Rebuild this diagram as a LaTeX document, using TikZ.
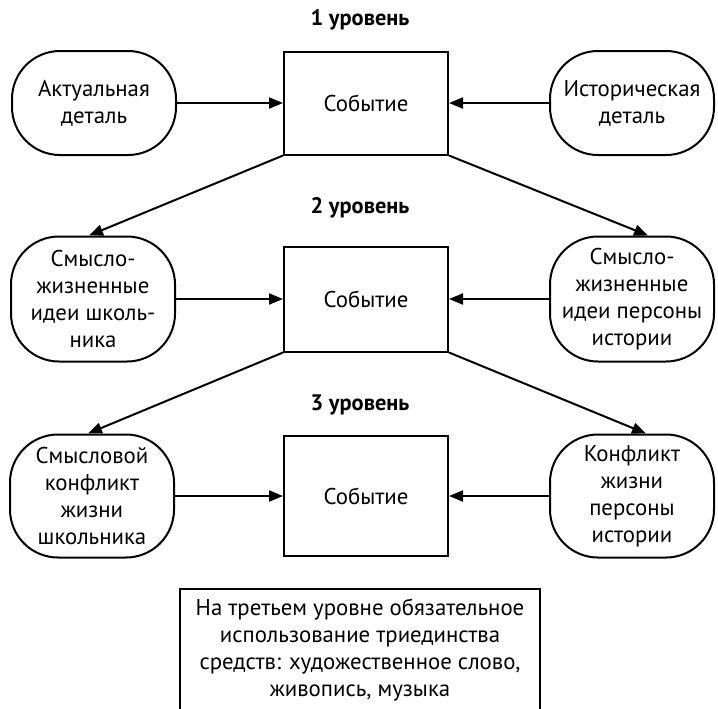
\documentclass[tikz,border=0pt]{standalone}
\usepackage{fontspec}
\setmainfont{PT Sans}
\usetikzlibrary{arrows.meta}
\begin{document}
\begin{tikzpicture}[x=0.5pt,y=-0.5pt,font=\fontsize{11.4}{13.5}\selectfont,
	side/.style={draw,line width=1pt,rounded corners=24pt,align=center,minimum width=82pt,inner sep=2pt},
	event/.style={draw,line width=1pt,minimum width=82pt},
	lvl/.style={font=\fontsize{11.2}{13.5}\selectfont\bfseries},
	arr/.style={-{Triangle[length=7pt,width=5.5pt]},line width=1pt}]
	\clip (0,0) rectangle (718,708);
	% 1 level
	\node[lvl] (t1) at (360,20) {1 уровень};
	\node[side,minimum height=52pt] (lft1) at (94,103) {Актуальная\\деталь};
	\node[event,minimum height=51.5pt] (ev1) at (366,103) {Событие};
	\node[side,minimum height=52pt] (rgt1) at (632,103) {Историческая\\деталь};
	\draw[arr] (lft1) -- (ev1);
	\draw[arr] (rgt1) -- (ev1);
	% 2 level
	\node[lvl] (t2) at (360,208) {2 уровень};
	\node[side,minimum height=62.5pt] (lft2) at (93,299) {Смысло-\\жизненные\\идеи школь-\\ника};
	\node[event,minimum height=52.5pt] (ev2) at (366,299) {Событие};
	\node[side,minimum height=62.5pt] (rgt2) at (632,299) {Смысло-\\жизненные\\идеи персоны\\истории};
	\draw[arr] (lft2) -- (ev2);
	\draw[arr] (rgt2) -- (ev2);
	\draw[arr] (ev1.south west) -- ([xshift=-2pt]lft2.north);
	\draw[arr] (ev1.south east) -- ([xshift=8pt]rgt2.north);
	% 3 level
	\node[lvl] (t3) at (360,405) {3 уровень};
	\node[side,minimum height=61.5pt] (lft3) at (92,496) {Смысловой\\конфликт\\жизни\\школьника};
	\node[event,minimum height=60pt] (ev3) at (366,496) {Событие};
	\node[side,minimum height=61.5pt] (rgt3) at (632,496) {Конфликт\\жизни\\персоны\\истории};
	\draw[arr] (lft3) -- (ev3);
	\draw[arr] (rgt3) -- (ev3);
	\draw[arr] (ev2.south west) -- ([xshift=-2pt]lft3.north);
	\draw[arr] (ev2.south east) -- ([xshift=7pt]rgt3.north);
	% note
	\node[draw,line width=1pt,anchor=north,align=center,minimum width=180pt,inner ysep=5pt] (note) at (360,588)
		{На третьем уровне обязательное\\использование триединства\\средств: художественное слово,\\живопись, музыка};
\end{tikzpicture}
\end{document}
